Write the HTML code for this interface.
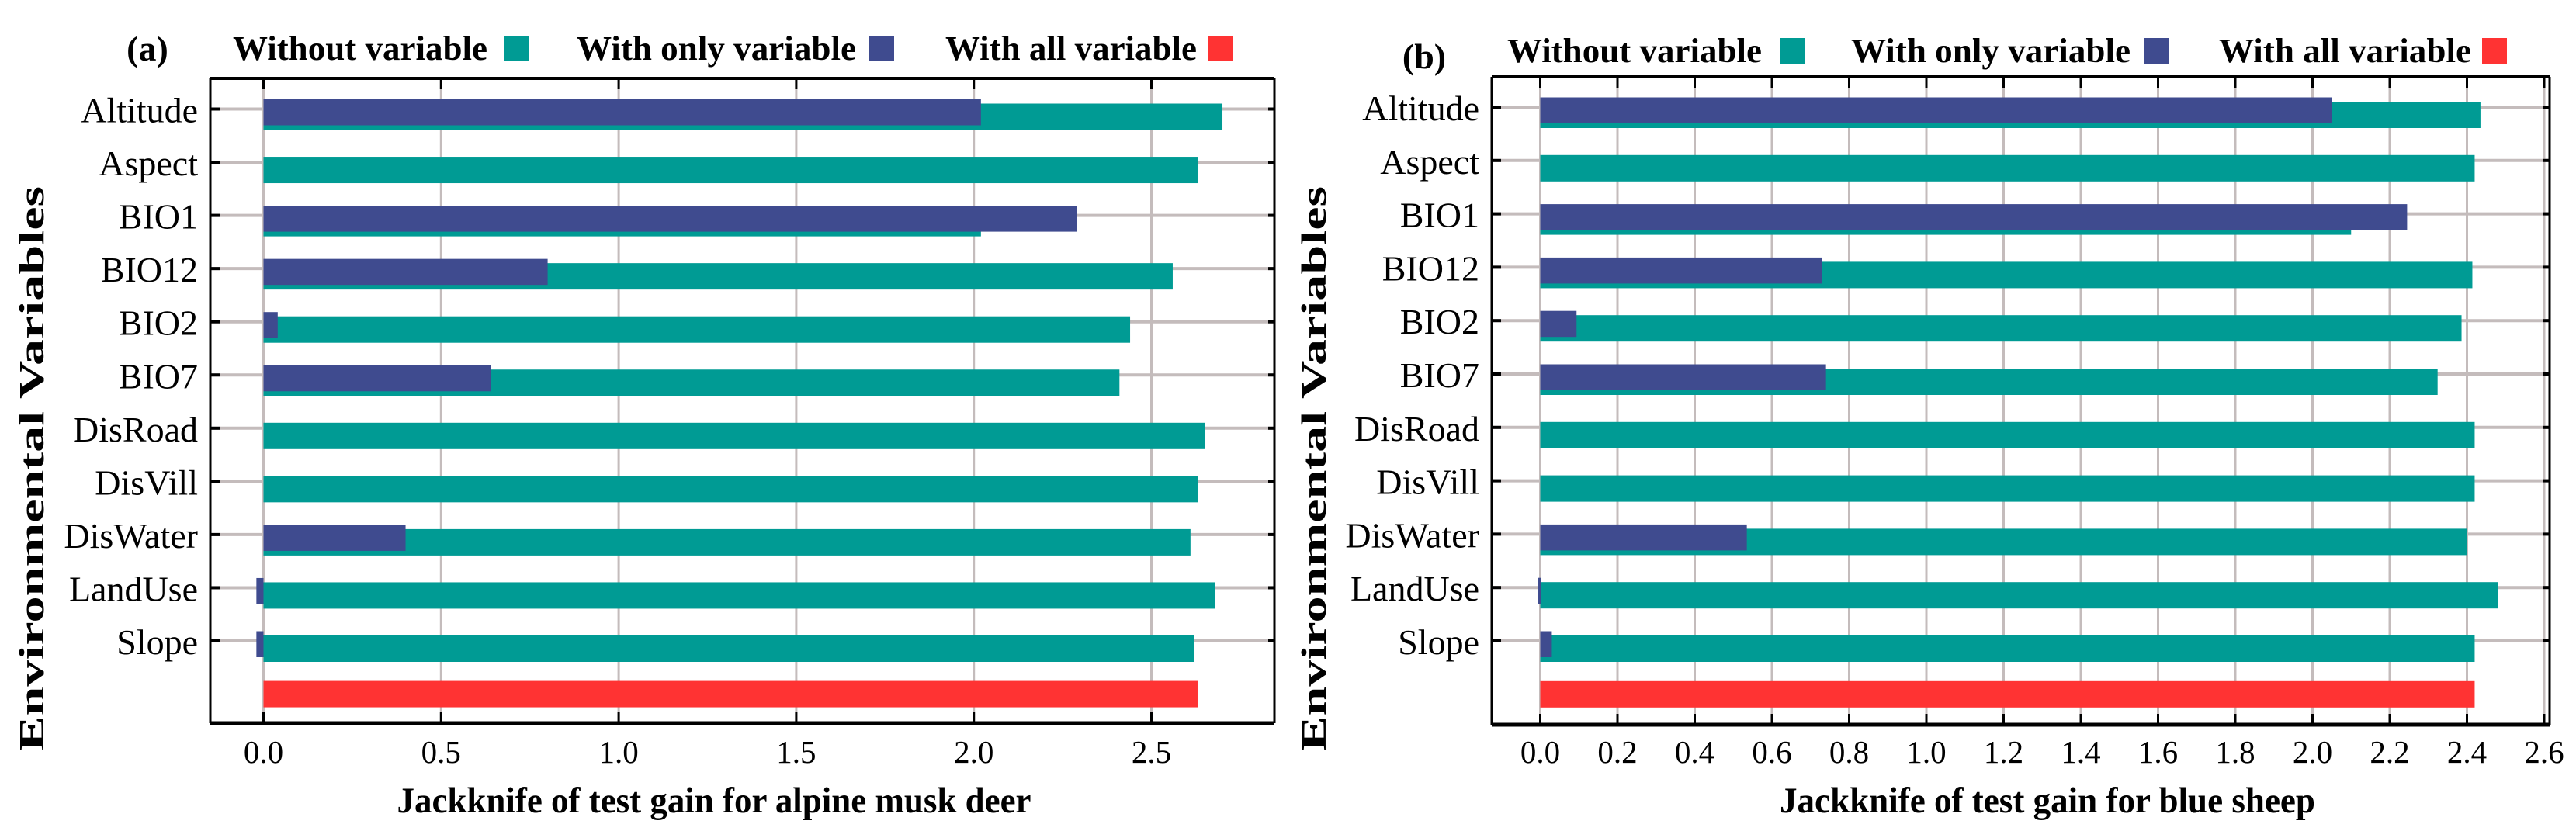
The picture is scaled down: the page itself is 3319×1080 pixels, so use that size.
<!DOCTYPE html>
<html><head><meta charset="utf-8"><style>
html,body{margin:0;padding:0;background:#fff;}
svg{display:block;}
text{font-family:"Liberation Serif",serif;}
</style></head><body>
<svg id="chart" width="3319" height="1080" viewBox="0 0 3319 1080" xmlns="http://www.w3.org/2000/svg">
<rect width="3319" height="1080" fill="#fff"/>
</svg>
<script>
const categories = ["Altitude","Aspect","BIO1","BIO12","BIO2","BIO7","DisRoad","DisVill","DisWater","LandUse","Slope"];
const withoutA = [2.70,2.63,2.02,2.56,2.44,2.41,2.65,2.63,2.61,2.68,2.62];
const onlyA    = [2.02,0,2.29,0.80,0.04,0.64,0,0,0.40,-0.02,-0.02];
const allA = 2.63;
const withoutB = [2.435,2.42,2.10,2.414,2.386,2.324,2.42,2.42,2.40,2.48,2.42];
const onlyB    = [2.05,0,2.245,0.73,0.094,0.74,0,0,0.535,-0.005,0.03];
const allB = 2.42;
const ticksA = ["0.0","0.5","1.0","1.5","2.0","2.5"];
const ticksB = ["0.0","0.2","0.4","0.6","0.8","1.0","1.2","1.4","1.6","1.8","2.0","2.2","2.4","2.6"];

const NS="http://www.w3.org/2000/svg";
const svg=document.getElementById('chart');
function mk(tag,attrs,parent){const e=document.createElementNS(NS,tag);for(const k in attrs)e.setAttribute(k,attrs[k]);(parent||svg).appendChild(e);return e;}

function panel(cfg){
  const g=mk('g',{});
  
  
  const X=v=>cfg.x0+(v)*cfg.unit;
  const Y=i=>cfg.c0+i*cfg.step;
  cfg.ticks.forEach(t=>{
    const x=X(parseFloat(t));
    const l=mk('line',{x1:x,x2:x,y1:cfg.top,y2:cfg.bot,stroke:'#c4bcbc','stroke-width':3},g);
    
    
  });
  categories.forEach((c,i)=>{
    const y=Y(i);
    const l=mk('line',{x1:cfg.left,x2:cfg.right,y1:y,y2:y,stroke:'#c4bcbc','stroke-width':4},g);
    
    
  });
  categories.forEach((c,i)=>{
    const y=Y(i);
    const w=cfg.without[i];
    const r=mk('rect',{x:Math.min(X(0),X(w)),y:y-7,width:Math.abs(X(w)-X(0)),height:34,fill:'#009b94'},g);
    
    
    const o=cfg.only[i];
    if(o!==0){
      const p=mk('rect',{x:Math.min(X(0),X(o)),y:y-12.5,width:Math.max(3,Math.abs(X(o)-X(0))),height:33.5,fill:'#3f4b8f'},g);
      
      
    }
    const t=mk('text',{x:cfg.left-16,y:y+17,'font-size':46,'text-anchor':'end'},g);
    t.textContent=c;
    
    
  });
  const ry=Y(11);
  const red=mk('rect',{x:X(0),y:ry-17,width:X(cfg.all)-X(0),height:34,fill:'#ff3333'},g);
  
  
  cfg.ticks.forEach(t=>{
    const x=X(parseFloat(t));
    mk('line',{x1:x,x2:x,y1:cfg.top,y2:cfg.top+14,stroke:'#000','stroke-width':3},g);
    mk('line',{x1:x,x2:x,y1:cfg.bot-14,y2:cfg.bot,stroke:'#000','stroke-width':3},g);
    const tl=mk('text',{x:x,y:983,'font-size':41,'text-anchor':'middle'},g);
    tl.textContent=t;
    
    
  });
  categories.forEach((c,i)=>{
    const y=Y(i);
    mk('line',{x1:cfg.left,x2:cfg.left+12,y1:y,y2:y,stroke:'#000','stroke-width':4},g);
    mk('line',{x1:cfg.right-8,x2:cfg.right,y1:y,y2:y,stroke:'#000','stroke-width':4},g);
  });
  mk('line',{x1:cfg.left,x2:cfg.right,y1:cfg.top,y2:cfg.top,stroke:'#000','stroke-width':4},g);
  mk('line',{x1:cfg.left,x2:cfg.right,y1:cfg.bot,y2:cfg.bot,stroke:'#000','stroke-width':5},g);
  mk('line',{x1:cfg.left,x2:cfg.left,y1:cfg.top,y2:cfg.bot,stroke:'#000','stroke-width':3},g);
  mk('line',{x1:cfg.right,x2:cfg.right,y1:cfg.top,y2:cfg.bot,stroke:'#000','stroke-width':3},g);
  const xt=mk('text',{x:cfg.xtX,y:1047,'font-size':47,'font-weight':'bold','text-anchor':'middle',textLength:cfg.xtW,lengthAdjust:'spacingAndGlyphs'},g);
  xt.textContent=cfg.xtitle;
  
  
  const yt=mk('text',{x:0,y:0,'font-size':46,'font-weight':'bold','text-anchor':'middle',textLength:728,lengthAdjust:'spacingAndGlyphs',transform:`translate(${cfg.ytX},604) rotate(-90)`},g);
  yt.textContent='Environmental Variables';
  
  
  const pl=mk('text',{x:cfg.lblX,y:cfg.lblY,'font-size':46,'font-weight':'bold','text-anchor':'middle'},g);
  pl.textContent=cfg.label;
  
  
  const names=['Without variable','With only variable','With all variable'];
  const cols=['#009b94','#3f4b8f','#ff3333'];
  cfg.leg.forEach((L,k)=>{
    const lt=mk('text',{x:L[0],y:cfg.legY,'font-size':44,'font-weight':'bold',textLength:L[1]-L[0],lengthAdjust:'spacingAndGlyphs'},g);
    lt.textContent=names[k];
    
    
    const sw=mk('rect',{x:L[2],y:cfg.legY-31,width:32,height:33,fill:cols[k]},g);
    
    
  });
}

panel({id:'a',x0:339.5,unit:457.6,left:271,right:1642,top:101,bot:932,c0:140.5,step:68.55,
  without:withoutA,only:onlyA,all:allA,ticks:ticksA,
  xtitle:'Jackknife of test gain for alpine musk deer',xtX:920,xtW:817,ytX:56,
  label:'(a)',lblX:190,lblY:78,legY:77,
  leg:[[300,628,649],[743,1103,1120],[1218,1542,1556]]});
panel({id:'b',x0:1984.5,unit:497.5,left:1922,right:3285,top:99,bot:934,c0:138,step:68.8,
  without:withoutB,only:onlyB,all:allB,ticks:ticksB,
  xtitle:'Jackknife of test gain for blue sheep',xtX:2638,xtW:690,ytX:1708,
  label:'(b)',lblX:1835,lblY:88,legY:80,
  leg:[[1942,2270,2293],[2385,2745,2762],[2859,3184,3198]]});
</script>
</body></html>
